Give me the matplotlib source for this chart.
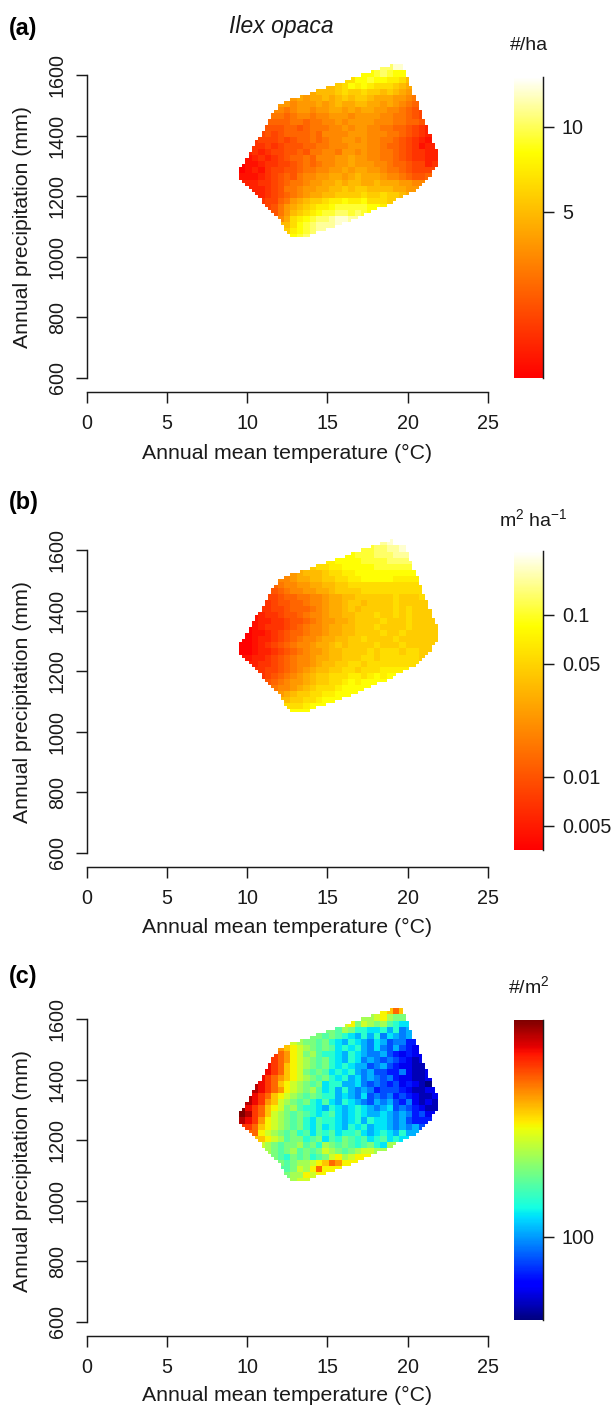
import numpy as np
import matplotlib
matplotlib.use("Agg")
import matplotlib.pyplot as plt
from matplotlib.colors import LinearSegmentedColormap, LogNorm
from matplotlib.path import Path

plt.rcParams['font.family'] = ['Liberation Sans', 'DejaVu Sans']
plt.rcParams['mathtext.fontset'] = 'custom'
plt.rcParams['mathtext.rm'] = 'Liberation Sans'
plt.rcParams['mathtext.default'] = 'regular'

W, H = 611, 1406
FS = 14.2
INK = '#1a1a1a'

# climate envelope outline (deg C, mm)
hull_temp = [19.01, 19.64, 19.85, 20.26, 20.72, 21.97, 21.97, 20.78, 18.9, 16.0, 13.5, 12.74, 11.85, 9.49, 9.49, 12.0, 13.82, 15.48, 17.25]
hull_prec = [1633, 1633, 1611, 1556, 1495, 1330, 1303, 1231, 1176, 1110, 1064, 1064, 1132, 1264, 1281, 1506, 1540, 1570, 1603]

# first block column of each row, top row first
row_start = [22, 19, 16, 13, 11, 8, 6, 5, 5, 4, 4, 3, 2, 2, 1, 1, 0, 0, 0, 1, 2, 3, 3, 4, 5, 6, 7, 7, 8]

# values read as levels a..u along each colour scale
density_rows = [
    "rrttq", "ppqrqpp", "nnppqppoonl", "llmnpoponnnmlk", "klllmnmmnmmlmlkjj",
    "jkjkklklmlmmlkkkjjih", "jjijjjkjklkkllkkjkjihg", "iihijjijjkkjkjkkjjiihgfe",
    "hhghiihiijjjijjjjiihhgfed", "gggghhghhiijijjjjiiihhggfed", "fffggfghhhiijijjiihhggfedcd",
    "efefgggghgiiiijjjiiihhgfedcc", "deeefefgghghiijjijiihhgfedcbc", "ddedefffgghhiiijjjiihggfedbcc",
    "cdcdeeffgfhhiihjjijiihhgfeddcc", "bcdcdefgghgiiijjkjjiihhgfeddcc",
    "abbcddeefghghiijjkjjjiihggfeecd", "abcbdeeffghhiijjkjkkjjihhgfeeee",
    "bbbcdefgfhiijjkkjklkkkjiihgffg", "ccddefghhijjkklkllkklkkkjjii", "ccdefhhijjkkllmlmmllllkkj",
    "cdefghijkkllmmmmnmmnmmlk", "deeghjklmmnoopoopnnnm", "efhjklmnoopqqqqqppo",
    "fhjlmnopqqrrqrqp", "iknopqrrsttss", "lnpqrssst", "mopqrs", "pqr",
]
basal_rows = [
    "stuu", "qqrrsst", "ppqqqrrrsss", "ooppppqqqqrrrr", "mnnoopppppqqqqqqq",
    "jklllmnnoopppppppppp", "iijkkllmmnnoopppppooo", "ghiijjkkllmmnnnnnnnnnnnn",
    "fghiijjkklmmmmnnnnnnnnnn", "eefgghhiijkkllmmmmmmnmmmnn", "deffgghiijkklmmlmmmmnmmmmm",
    "ddeefggghijkklmlmmmmmnmnmmm", "bcddeffghiijkkllmmmnmmnmnmmmm", "bccddeffghijjkklmmmmnmmmnmmmm",
    "abcdddefghiijkkllmmmnmmmmnmmmm", "abbcdefgghiijkkllmmmmnmmnmmmmm",
    "aabccdefghiijkkllmmnmmmmnmmmmmm", "aabcdefghiijkklmlmmmmnmmmnmmmmmm",
    "aabccdefghijjkllmmmmnmnnnmnnmm", "bccdefghiijkkllmmmnnmnnnnnnm", "cddefghiijkllmmnnmnnnnnnn",
    "deefghijkllmmnnmnnnooooo", "defghijklmmnnnoonopop", "fghijjklmmnnopoppp",
    "hiijklmnnnoppppp", "jklmmnnoopppp", "lmmnnopp", "nnnopp", "ppp",
]
stem_rows = [
    "noqon", "llmnlkk", "mnkmlkljihh", "kkjlkiihhigifg", "kkjkjihgigifhgfge",
    "mlkkjkihgihgfhgeffdd", "ponmlkjkjhihigfhfegedc", "rqpnmkljiihgihgffgedcdc",
    "rqpnmlkjkihgihfgfefedcbc", "srqonmlkjkihihggefgedccbbc", "srqonmkjkjhihigfgeeddfcbbc",
    "srqponmlkjkihighfgfefdccbbc", "tsrqonmlkjkhiigghfefedecdcbac", "tsrqpnmlkljhigigfgfdeeedcbbcc",
    "tsrqonmlkjkjiighgfhefefdedcbbc", "tsrpomlkjkihjhgihgfegfgedfcbcb",
    "usrqonmkljiihgihghihgfghefedcbb", "utrqomlkjkjihijhghihgghgfgfdecc",
    "tsrpnmlkjkihjiihghigihhgfgedd", "rqonmlkjkihjhihgihighhgfgfge", "qnmlkjkijhjijhiijhghihgig",
    "onmljkkijkhjikjijhijhihh", "mlkjkkljkilkjkjijkihl", "lkjkljkjkmlkjklmmll",
    "kjikjkijkmnlmnn", "kjkllmnoqpnn", "jkmlnqnn", "kllnmn", "lmm",
]

# value range and ticks of each colour bar
density_range = (1.29, 15.0)
density_ticks = [5, 10]
density_labels = ['5', '10']
basal_range = (0.00354, 0.248)
basal_ticks = [0.005, 0.01, 0.05, 0.1]
basal_labels = ['0.005', '0.01', '0.05', '0.1']
stem_range = (70.0, 254.0)
stem_ticks = [100]
stem_labels = ['100']

x_ticks = [0, 5, 10, 15, 20, 25]
y_ticks = [600, 800, 1000, 1200, 1400, 1600]

heat = LinearSegmentedColormap.from_list('heat', [(0, '#ff0000'), (0.75, '#ffff00'), (1, '#ffffff')], N=256)

T0, DT, NC = 9.5, 0.2, 62
P0, DP, NR = 1635, 10, 58
t_edges = T0 + DT * np.arange(NC + 1)
p_edges = P0 - DP * np.arange(NR + 1)
tc, pc = np.meshgrid((t_edges[:-1] + t_edges[1:]) / 2, (p_edges[:-1] + p_edges[1:]) / 2)
inside = Path(np.column_stack([hull_temp, hull_prec])).contains_points(
    np.column_stack([tc.ravel(), pc.ravel()])).reshape(tc.shape)


def grid_from(rows, vrange):
    lev = np.zeros((len(rows), 31))
    for r, (s, txt) in enumerate(zip(row_start, rows)):
        vals = [ord(ch) - 97 for ch in txt]
        full = [vals[0]] * s + vals
        full += [vals[-1]] * (31 - len(full))
        lev[r] = full[:31]
    vmin, vmax = vrange
    val = vmin * (vmax / vmin) ** (lev / 20)
    fine = np.repeat(np.repeat(val, 2, axis=0), 2, axis=1)[:NR, :NC]
    return np.ma.masked_where(~inside, fine)


def frac(left, top, right, bottom):
    return [left / W, 1 - bottom / H, (right - left) / W, (bottom - top) / H]


fig = plt.figure(figsize=(W / 100, H / 100), dpi=100)


def panel(top, letter, letter_y, xlabel_y, rows, vrange, cmap, ticks, labels, unit, unit_x, unit_y, bar_top, bar_bot):
    bot = top + 303
    ax = fig.add_axes(frac(86.7, top, 487.7, bot))
    ax.set_xlim(0, 25)
    ax.set_ylim(600, 1600)
    ax.patch.set_alpha(0)
    norm = LogNorm(*vrange)
    ax.pcolormesh(t_edges, p_edges, grid_from(rows, vrange), cmap=cmap, norm=norm,
                  clip_on=False, antialiased=False, linewidth=0)
    for s in ('top', 'right'):
        ax.spines[s].set_visible(False)
    ax.spines['bottom'].set_position(('outward', 10.2))
    for s in ('left', 'bottom'):
        ax.spines[s].set_linewidth(1.05)
        ax.spines[s].set_color(INK)
    ax.set_xticks(x_ticks)
    ax.set_yticks(y_ticks)
    ax.tick_params(axis='x', length=7.7, width=1.05, color=INK, pad=7.8, labelsize=FS, labelcolor=INK)
    ax.tick_params(axis='y', length=7.7, width=1.05, color=INK, pad=6.5, labelsize=FS, labelcolor=INK)
    for lab in ax.get_yticklabels():
        lab.set_rotation(90)
        lab.set_va('center')
    fig.text(287 / W, 1 - xlabel_y / H, 'Annual mean temperature (°C)', ha='center', va='center',
             fontsize=15.3, color=INK)
    fig.text(23 / W, 1 - (top + 152) / H, 'Annual precipitation (mm)', rotation=90, ha='center', va='center',
             fontsize=15.3, color=INK)
    fig.text(9 / W, 1 - letter_y / H, letter, ha='left', va='center', fontsize=16.8,
             fontweight='bold', color='black')
    fig.text(unit_x / W, 1 - unit_y / H, unit, ha='center', va='center', fontsize=14.0, color=INK)

    cax = fig.add_axes(frac(514, bar_top, 542.6, bar_bot))
    cax.set_yscale('log')
    v_edges = np.geomspace(vrange[0], vrange[1], 257)
    cax.pcolormesh([0, 1], v_edges, ((v_edges[:-1] * v_edges[1:]) ** 0.5)[:, None], cmap=cmap, norm=norm,
                   antialiased=False, linewidth=0)
    cax.set_ylim(*vrange)
    cax.set_xticks([])
    for s in ('top', 'left', 'bottom'):
        cax.spines[s].set_visible(False)
    cax.spines['right'].set_linewidth(1.05)
    cax.spines['right'].set_color(INK)
    cax.yaxis.tick_right()
    cax.set_yticks(ticks)
    cax.set_yticklabels(labels)
    cax.minorticks_off()
    cax.tick_params(axis='y', which='major', length=7.7, width=1.05, color=INK, pad=6.2, labelsize=FS, labelcolor=INK)
    return ax


panel(75, '(a)', 28, 453, density_rows, density_range, heat, density_ticks, density_labels, '#/ha', 529, 45, 77, 378)
panel(550, '(b)', 502, 927, basal_rows, basal_range, heat, basal_ticks, basal_labels, 'm$^{2}$ ha$^{-1}$', 533, 519, 551, 850)
panel(1019, '(c)', 977, 1395, stem_rows, stem_range, plt.get_cmap('jet'), stem_ticks, stem_labels, '#/m$^{2}$', 529, 986, 1020, 1320)

fig.text(281 / W, 1 - 26 / H, 'Ilex opaca', ha='center', va='center', fontsize=16.5, style='italic', color=INK)

fig.savefig('out.png', dpi=100)
